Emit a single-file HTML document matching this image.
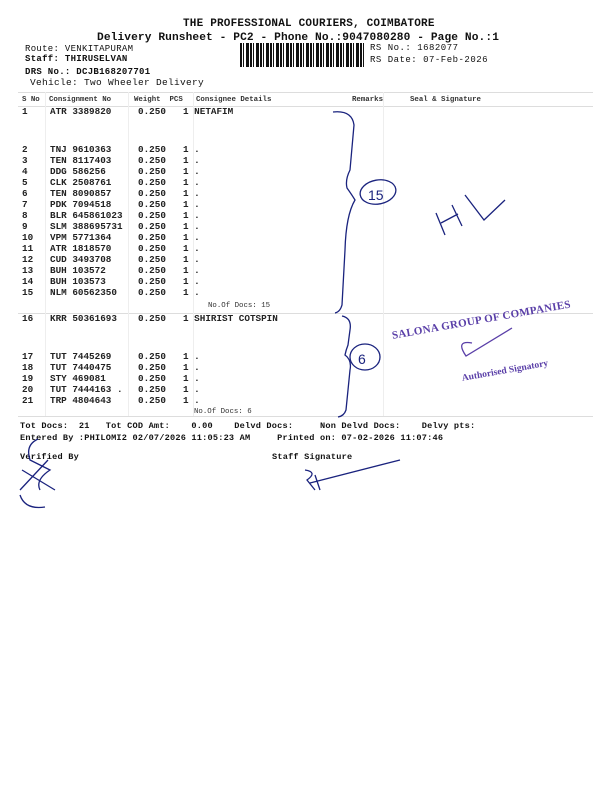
<!DOCTYPE html>
<html><head><meta charset="utf-8"><style>
body{margin:0;background:#fff}
#p{position:relative;width:600px;height:800px;overflow:hidden;background:#fff;font-family:"Liberation Mono",monospace;color:#111}
.t{position:absolute;white-space:pre;font-size:10px;line-height:12px;letter-spacing:1px}
.c{position:absolute;white-space:pre;font-size:9.3px;line-height:11px;letter-spacing:0;font-weight:bold;color:#222}
.s{font-size:7.4px;letter-spacing:0;font-weight:bold;color:#333}
.h{position:absolute;height:1px;background:#ddd}
.v{position:absolute;width:1px;background:#eee}
</style></head><body><div id="p">
<div class="t" style="left:183px;top:18px;font-size:11px;letter-spacing:0.2px;font-weight:bold">THE PROFESSIONAL COURIERS, COIMBATORE</div>
<div class="t" style="left:97px;top:32px;font-size:11.2px;letter-spacing:0.1px;font-weight:bold">Delivery Runsheet - PC2 - Phone No.:9047080280 - Page No.:1</div>
<div class="t" style="left:25px;top:43px;font-size:9px;letter-spacing:0.3px">Route: VENKITAPURAM</div>
<div class="t" style="left:25px;top:53px;font-size:9px;letter-spacing:0.3px;font-weight:bold">Staff: THIRUSELVAN</div>
<div class="t" style="left:25px;top:66px;font-size:9px;letter-spacing:0.3px;font-weight:bold">DRS No.: DCJB168207701</div>
<div class="t" style="left:30px;top:77px;font-size:9.5px;letter-spacing:0.3px">Vehicle: Two Wheeler Delivery</div>
<div style="position:absolute;left:240px;top:43px;width:126px;height:24px;background:repeating-linear-gradient(90deg,#111 0 2px,#fff 2px 3px,#111 3px 4px,#fff 4px 6px,#111 6px 9px,#fff 9px 10px)"></div>
<div class="t" style="left:370px;top:42px;font-size:9px;letter-spacing:0.5px">RS No.: 1682077</div>
<div class="t" style="left:370px;top:54px;font-size:9px;letter-spacing:0.5px">RS Date: 07-Feb-2026</div>
<div class="h" style="left:18px;top:92px;width:575px"></div>
<div class="h" style="left:18px;top:106px;width:575px"></div>
<div class="h" style="left:18px;top:313px;width:575px"></div>
<div class="h" style="left:18px;top:416px;width:575px"></div>
<div class="v" style="left:45px;top:92px;height:324px"></div>
<div class="v" style="left:128px;top:92px;height:324px"></div>
<div class="v" style="left:193px;top:92px;height:324px"></div>
<div class="v" style="left:383px;top:92px;height:324px"></div>
<div class="t s" style="left:22px;top:94px">S No</div>
<div class="t s" style="left:49px;top:94px">Consignment No</div>
<div class="t s" style="left:134px;top:94px">Weight  PCS</div>
<div class="t s" style="left:196px;top:94px">Consignee Details</div>
<div class="t s" style="left:352px;top:94px">Remarks</div>
<div class="t s" style="left:410px;top:94px">Seal &amp; Signature</div>

<div class="c" style="left:22px;top:106px">1</div>
<div class="c" style="left:50px;top:106px">ATR 3389820</div>
<div class="c" style="left:138px;top:106px">0.250</div>
<div class="c" style="left:183px;top:106px">1 NETAFIM</div>

<div class="c" style="left:22px;top:144px">2
3
4
5
6
7
8
9
10
11
12
13
14
15</div>
<div class="c" style="left:50px;top:144px">TNJ 9610363
TEN 8117403
DDG 586256
CLK 2508761
TEN 8090857
PDK 7094518
BLR 645861023
SLM 388695731
VPM 5771364
ATR 1818570
CUD 3493708
BUH 103572
BUH 103573
NLM 60562350</div>
<div class="c" style="left:138px;top:144px">0.250
0.250
0.250
0.250
0.250
0.250
0.250
0.250
0.250
0.250
0.250
0.250
0.250
0.250</div>
<div class="c" style="left:183px;top:144px">1 .
1 .
1 .
1 .
1 .
1 .
1 .
1 .
1 .
1 .
1 .
1 .
1 .
1 .</div>
<div class="t s" style="left:208px;top:300px;font-weight:normal">No.Of Docs: 15</div>

<div class="c" style="left:22px;top:313px">16</div>
<div class="c" style="left:50px;top:313px">KRR 50361693</div>
<div class="c" style="left:138px;top:313px">0.250</div>
<div class="c" style="left:183px;top:313px">1 SHIRIST COTSPIN</div>

<div class="c" style="left:22px;top:351px">17
18
19
20
21</div>
<div class="c" style="left:50px;top:351px">TUT 7445269
TUT 7440475
STY 469081
TUT 7444163 .
TRP 4804643</div>
<div class="c" style="left:138px;top:351px">0.250
0.250
0.250
0.250
0.250</div>
<div class="c" style="left:183px;top:351px">1 .
1 .
1 .
1 .
1 .</div>
<div class="t s" style="left:194px;top:406px;font-weight:normal">No.Of Docs: 6</div>

<div class="t" style="left:20px;top:420px;font-size:8.6px;letter-spacing:0.2px;font-weight:bold">Tot Docs:  21   Tot COD Amt:    0.00    Delvd Docs:     Non Delvd Docs:    Delvy pts:</div>
<div class="t" style="left:20px;top:432px;font-size:8.6px;letter-spacing:0.2px;font-weight:bold">Entered By :PHILOMI2 02/07/2026 11:05:23 AM     Printed on: 07-02-2026 11:07:46</div>
<div class="t" style="left:20px;top:451px;font-size:8.6px;letter-spacing:0.2px;font-weight:bold">Verified By</div>
<div class="t" style="left:272px;top:451px;font-size:8.6px;letter-spacing:0.2px;font-weight:bold">Staff Signature</div>
<div class="t" style="left:391px;top:330px;font-family:'Liberation Serif',serif;font-size:11px;color:#5a3fa8;transform:rotate(-10deg);transform-origin:left top;letter-spacing:0.3px;font-weight:bold">SALONA GROUP OF COMPANIES</div>
<div class="t" style="left:461px;top:373px;font-family:'Liberation Serif',serif;font-size:9.5px;color:#5a3fa8;transform:rotate(-10deg);transform-origin:left top;font-weight:bold;letter-spacing:0">Authorised Signatory</div>
<svg width="600" height="800" style="position:absolute;left:0;top:0" fill="none" stroke="#1a237e" stroke-width="1.3">
<path d="M333 112 Q352 110 354 125 L350 170 Q345 180 347 188 Q352 195 355 200 Q346 215 345 250 L342 305 Q340 312 335 313"/>
<ellipse cx="378" cy="192" rx="18" ry="12" transform="rotate(-10 378 192)"/>
<text x="368" y="200" font-family="Liberation Sans" font-size="14" fill="#1a237e" stroke="none">15</text>
<path d="M342 316 Q352 318 350 330 L348 345 Q346 350 345 355 Q352 360 350 370 L346 410 Q344 416 338 417"/>
<ellipse cx="365" cy="357" rx="15" ry="13"/>
<text x="358" y="364" font-family="Liberation Sans" font-size="14" fill="#1a237e" stroke="none">6</text>
<path d="M436 213 L445 235 M441 223 L458 214 M452 205 L462 226 M465 195 L484 220 L505 200"/>
<path d="M472 343 Q455 340 466 356 L512 328" stroke="#5a3fa8"/>
<path d="M38 439 Q25 445 30 460 L50 470 Q35 480 40 490 M22 470 L55 490 M20 495 Q25 510 45 507 M48 460 L20 490"/>
<path d="M305 470 Q318 472 307 480 L315 490 M315 475 L320 490 M310 483 L400 460"/>
</svg>
</div></body></html>
